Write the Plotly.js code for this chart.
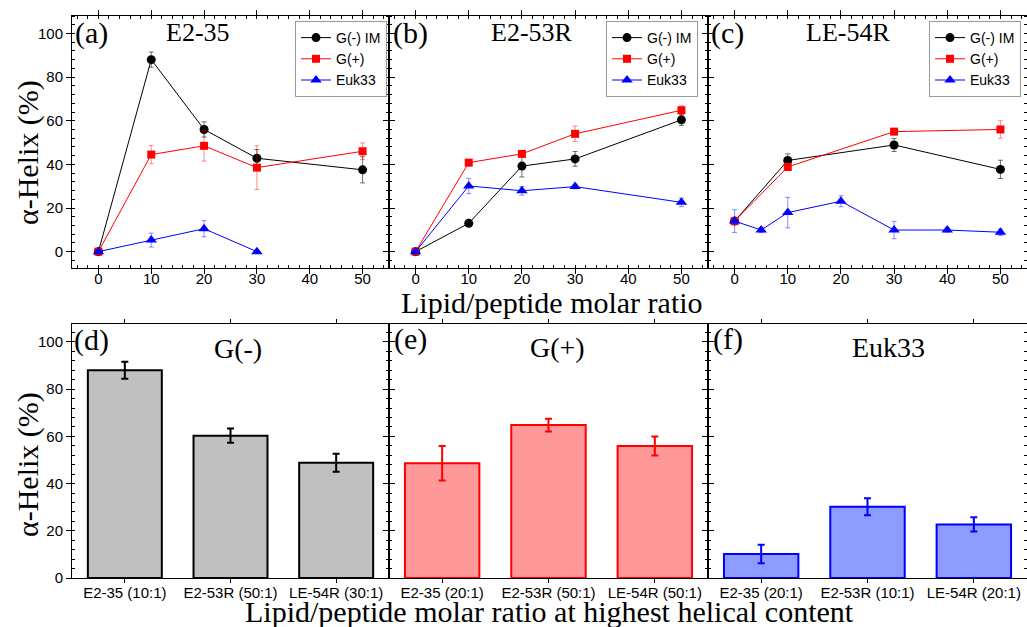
<!DOCTYPE html>
<html>
<head>
<meta charset="utf-8">
<script src="https://cdn.plot.ly/plotly-3.0.1.min.js"></script>
<style>html,body{margin:0;padding:0;background:#fff;}#chart{width:1027px;height:627px;}</style>
</head>
<body>
<div id="chart"></div>
<script>
// ---------- data ----------
// (a) E2-35
const xA_neg = [0, 10, 20, 30, 50];
const yA_neg = [0, 88, 56, 42.8, 37.5];
const eA_neg = [0.5, 3.5, 3.5, 4, 6];
const xA_pos = [0, 10, 20, 30, 50];
const yA_pos = [0, 44.5, 48.5, 38.5, 46];
const eA_pos = [0.5, 4.2, 7, 10, 3.8];
const xA_euk = [0, 10, 20, 30];
const yA_euk = [0, 5.3, 10.5, 0];
const eA_euk = [0.5, 3.2, 3.7, 0.5];
// (b) E2-53R
const xB_neg = [0, 10, 20, 30, 50];
const yB_neg = [0, 13, 39.2, 42.5, 60.4];
const eB_neg = [0.5, 0.8, 5, 3.4, 2.6];
const xB_pos = [0, 10, 20, 30, 50];
const yB_pos = [0, 40.8, 44.8, 54, 64.8];
const eB_pos = [0.5, 1.5, 1.5, 3.5, 2];
const xB_euk = [0, 10, 20, 30, 50];
const yB_euk = [0, 30.1, 27.9, 29.8, 22.6];
const eB_euk = [0.5, 3.5, 2, 1, 2];
// (c) LE-54R
const xC_neg = [0, 10, 30, 50];
const yC_neg = [14, 41.8, 48.9, 37.7];
const eC_neg = [1, 3, 3, 4.2];
const xC_pos = [0, 10, 30, 50];
const yC_pos = [14, 38.8, 55, 56];
const eC_pos = [1, 1, 1, 4];
const xC_euk = [0, 5, 10, 20, 30, 40, 50];
const yC_euk = [14, 9.9, 17.9, 23.1, 9.9, 9.9, 8.9];
const eC_euk = [5.2, 1.2, 7, 2.5, 4, 1, 1.5];
// bottom bars
const catNeg = ["E2-35 (10:1)", "E2-53R (50:1)", "LE-54R (30:1)"];
const valNeg = [88, 60.3, 48.8];
const errNeg = [3.6, 3, 3.8];
const catPos = ["E2-35 (20:1)", "E2-53R (50:1)", "LE-54R (50:1)"];
const valPos = [48.6, 64.8, 55.9];
const errPos = [7.3, 2.7, 4];
const catEuk = ["E2-35 (20:1)", "E2-53R (10:1)", "LE-54R (20:1)"];
const valEuk = [10.2, 30.2, 22.7];
const errEuk = [3.9, 3.6, 3];
const seriesNames = ["G(-) IM", "G(+)", "Euk33"];
const xTickVals = [0, 10, 20, 30, 40, 50];
const yTickVals = [0, 20, 40, 60, 80, 100];

// ---------- styles ----------
const SANS = "'Liberation Sans', Arial, sans-serif";
const SERIF = "'Liberation Serif', 'Times New Roman', serif";
const styles = [
  {color: "#000000", err: "rgba(0,0,0,0.55)", symbol: "circle", size: 9},
  {color: "#ff0000", err: "rgba(255,0,0,0.45)", symbol: "square", size: 8},
  {color: "#0000ff", err: "rgba(0,0,255,0.45)", symbol: "triangle-up", size: 10}
];

function lineTrace(x, y, e, k, axN, legendId) {
  const s = styles[k];
  return {
    type: "scatter", mode: "lines+markers", x: x, y: y, name: seriesNames[k],
    xaxis: "x" + (axN === 1 ? "" : axN), yaxis: "y" + (axN === 1 ? "" : axN),
    legend: legendId,
    line: {color: s.color, width: 1},
    marker: {color: s.color, symbol: s.symbol, size: s.size},
    error_y: {type: "data", array: e, visible: true, color: s.err, thickness: 1, width: 2.5}
  };
}
function barTrace(cats, vals, errs, fill, edge, axN) {
  return {
    type: "bar", x: cats, y: vals, showlegend: false, width: 0.7,
    xaxis: "x" + axN, yaxis: "y" + axN,
    marker: {color: fill, line: {color: edge, width: 2}},
    error_y: {type: "data", array: errs, visible: true, color: edge, thickness: 2, width: 3.5}
  };
}

const data = [
  lineTrace(xA_neg, yA_neg, eA_neg, 0, 1, "legend"),
  lineTrace(xA_pos, yA_pos, eA_pos, 1, 1, "legend"),
  lineTrace(xA_euk, yA_euk, eA_euk, 2, 1, "legend"),
  lineTrace(xB_neg, yB_neg, eB_neg, 0, 2, "legend2"),
  lineTrace(xB_pos, yB_pos, eB_pos, 1, 2, "legend2"),
  lineTrace(xB_euk, yB_euk, eB_euk, 2, 2, "legend2"),
  lineTrace(xC_neg, yC_neg, eC_neg, 0, 3, "legend3"),
  lineTrace(xC_pos, yC_pos, eC_pos, 1, 3, "legend3"),
  lineTrace(xC_euk, yC_euk, eC_euk, 2, 3, "legend3"),
  barTrace(catNeg, valNeg, errNeg, "#c0c0c0", "#000000", 4),
  barTrace(catPos, valPos, errPos, "#ff9999", "#ff0000", 5),
  barTrace(catEuk, valEuk, errEuk, "#8f9cff", "#0000ff", 6)
];

// ---------- layout ----------
const L = 72, R = 1027, T = 16, B = 578;
const W = R - L, H = B - T;
const px = v => (v - L) / W;
const py = v => (B - v) / H;
const xd = [[0, px(389)], [px(389), px(708)], [px(708), 1]];
const ydTop = [py(268), 1];
const ydBot = [0, py(324)];

function xAxisTop(i) {
  return {
    domain: xd[i], anchor: "y" + (i === 0 ? "" : i + 1), range: [-5, 55],
    tickvals: xTickVals, ticks: "outside", ticklen: 5, tickwidth: 1, tickcolor: "#000",
    showline: true, linecolor: "#000", linewidth: 1, mirror: "allticks",
    showgrid: false, zeroline: false, ticklabelstandoff: -8,
    minor: {dtick: 2, ticks: "inside", ticklen: 3, tickcolor: "#000", showgrid: false},
    tickfont: {family: SANS, size: 15, color: "#000"}
  };
}
function yAxis(i, top) {
  const ax = {
    domain: top ? ydTop : ydBot, anchor: "x" + (i === 0 ? "" : i + 1),
    range: top ? [-7.5, 108] : [0, 107.6],
    tickvals: yTickVals, ticks: "outside", ticklen: 5, tickwidth: 1, tickcolor: "#000",
    showline: true, linecolor: "#000", linewidth: 1, mirror: "allticks",
    showgrid: false, zeroline: false, showticklabels: (i === 0 || i === 3),
    minor: {dtick: 4, ticks: "inside", ticklen: 3, tickcolor: "#000", showgrid: false},
    tickfont: {family: SANS, size: 15, color: "#000"}
  };
  return ax;
}
function xAxisBot(i) {
  return {
    domain: xd[i - 3], anchor: "y" + (i + 1), type: "category", range: [-0.5, 2.5],
    ticks: "outside", ticklen: 4, tickcolor: "#000",
    showline: true, linecolor: "#000", linewidth: 1, mirror: "allticks",
    showgrid: false, zeroline: false, ticklabelstandoff: -3,
    tickfont: {family: SANS, size: 15, color: "#000"}
  };
}
function legendAt(rightPx) {
  return {
    x: px(rightPx), y: py(21), xanchor: "right", yanchor: "top", xref: "paper", yref: "paper",
    bgcolor: "#ffffff", bordercolor: "#9a9a9a", borderwidth: 1,
    font: {family: SANS, size: 14, color: "#000"}, tracegroupgap: 0, itemwidth: 30
  };
}
function ann(text, x, y, size, xanchor, angle) {
  return {
    text: text, xref: "paper", yref: "paper", x: px(x), y: py(y), showarrow: false,
    xanchor: xanchor || "center", yanchor: "middle", textangle: angle || 0,
    font: {family: SERIF, size: size, color: "#000"}
  };
}

const layout = {
  width: 1027, height: 627,
  margin: {l: L, r: 0, t: T, b: 627 - B, pad: 0},
  paper_bgcolor: "#ffffff", plot_bgcolor: "#ffffff",
  showlegend: true,
  xaxis: xAxisTop(0), xaxis2: xAxisTop(1), xaxis3: xAxisTop(2),
  yaxis: yAxis(0, true), yaxis2: yAxis(1, true), yaxis3: yAxis(2, true),
  xaxis4: xAxisBot(3), xaxis5: xAxisBot(4), xaxis6: xAxisBot(5),
  yaxis4: yAxis(3, false), yaxis5: yAxis(4, false), yaxis6: yAxis(5, false),
  legend: legendAt(387), legend2: legendAt(698), legend3: legendAt(1021),
  annotations: [
    ann("(a)", 73, 33, 30, "left"), ann("E2-35", 198, 33, 26),
    ann("(b)", 391, 33, 30, "left"), ann("E2-53R", 532, 33, 26),
    ann("(c)", 709, 33, 30, "left"), ann("LE-54R", 848, 33, 26),
    ann("(d)", 72, 340, 30, "left"), ann("G(-)", 238, 349, 28),
    ann("(e)", 392, 339, 30, "left"), ann("G(+)", 557, 347, 28),
    ann("(f)", 711, 339, 30, "left"), ann("Euk33", 888, 347, 28),
    ann("Lipid/peptide molar ratio", 552, 302, 30),
    ann("Lipid/peptide molar ratio at highest helical content", 549, 611, 30),
    ann("α-Helix (%)", 28, 153, 30, "center", -90),
    ann("α-Helix (%)", 28, 465, 30, "center", -90)
  ]
};

Plotly.newPlot("chart", data, layout, {displayModeBar: false, staticPlot: true});
</script>
</body>
</html>
